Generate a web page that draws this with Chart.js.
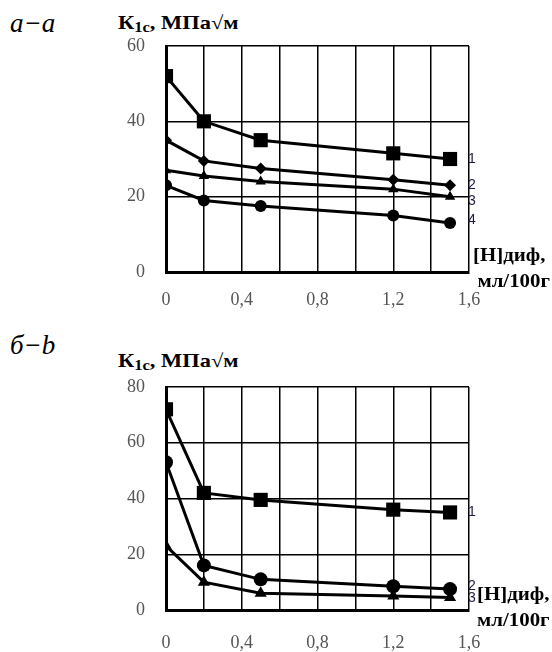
<!DOCTYPE html>
<html lang="ru">
<head>
    <meta charset="UTF-8">
    <title>K1c</title>
    <script src="https://cdn.jsdelivr.net/npm/chart.js"></script>
    <style>
        body {
            margin: 0;
            width: 552px;
            height: 652px;
            background: #fff;
            position: relative;
            font-family: 'Liberation Serif', serif;
            overflow: hidden;
        }
        .panel { position: absolute; left: 0; width: 552px; }
        .tag {
            position: absolute;
            left: 10px;
            font-family: 'Liberation Serif', serif;
            font-style: italic;
            font-size: 27px;
            line-height: 30px;
        }
        .ytitle, .xtitle {
            position: absolute;
            font-weight: bold;
            font-size: 19px;
            white-space: nowrap;
        }
        .ytitle { transform-origin: 0 0; transform: scaleX(1.18); line-height: 20px; }
        .ytitle sub { font-size: 14px; vertical-align: -3px; }
        .xtitle { line-height: 26px; transform-origin: 0 0; transform: scaleX(1.1); }
        .xtitle span { display: block; }
    </style>
</head>
<body>
    <div class="tag" style="top: 8px;">а−а</div>
    <div class="ytitle" style="left: 118px; top: 13px;">К<sub>1с</sub>, МПа√м</div>
    <div class="panel" style="top: 0; height: 320px;"><canvas id="chartA"></canvas></div>
    <div class="xtitle" style="left: 473px; top: 242px;"><span>[H]диф,</span><span style="margin-left: 4px;">мл/100г</span></div>

    <div class="tag" style="top: 330px;">б−b</div>
    <div class="ytitle" style="left: 118px; top: 351px;">К<sub>1с</sub>, МПа√м</div>
    <div class="panel" style="top: 330px; height: 322px;"><canvas id="chartB"></canvas></div>
    <div class="xtitle" style="left: 477px; top: 581px;"><span>[H]диф,</span><span>мл/100г</span></div>

    <script>
        // содержание диффузионного водорода, мл/100г
        const hDif = [0, 0.2, 0.5, 1.2, 1.5];

        // а-а
        const a1 = [52, 40, 35, 31.5, 30];
        const a2 = [35, 29.5, 27.5, 24.5, 23];
        const a3 = [27, 25.5, 24, 22, 20];
        const a4 = [23, 19, 17.5, 15, 13];
        const aNames = ['1', '2', '3', '4'];

        // б-b
        const b1 = [72, 42, 39.5, 36, 35];
        const b2 = [53, 16, 11, 8.5, 7.5];
        const b3 = [23, 10, 6, 5, 4.5];
        const bNames = ['1', '2', '3'];

        const styles = ['rect', 'rectRot', 'triangle', 'circle'];

        const endLabels = {
            id: 'endLabels',
            afterDatasetsDraw(chart, args, opts) {
                const ctx = chart.ctx;
                ctx.save();
                ctx.font = '14px "Liberation Sans", sans-serif';
                ctx.fillStyle = '#1a1a40';
                ctx.textBaseline = 'middle';
                chart.data.datasets.forEach((ds, i) => {
                    const meta = chart.getDatasetMeta(i);
                    const p = meta.data[meta.data.length - 1];
                    ctx.fillText(ds.label, p.x + opts.dx, p.y + (opts.dy[i] || 0));
                });
                ctx.restore();
            }
        };

        function makeChart(id, series, names, yMax, styleIdx, radii, pad, xh, xpad, dx, dy) {
            const datasets = series.map((s, i) => ({
                label: names[i],
                data: hDif.map((x, j) => ({ x: x, y: s[j] })),
                borderColor: '#000',
                backgroundColor: '#000',
                borderWidth: 3,
                pointStyle: styles[styleIdx[i]],
                pointRadius: radii[i],
                pointBorderWidth: 0,
                tension: 0
            }));

            new Chart(document.getElementById(id), {
                type: 'line',
                data: { datasets: datasets },
                plugins: [endLabels],
                options: {
                    responsive: true,
                    maintainAspectRatio: false,
                    animation: false,
                    layout: { padding: pad },
                    plugins: {
                        legend: { display: false },
                        tooltip: { enabled: false },
                        endLabels: { dx: dx, dy: dy }
                    },
                    scales: {
                        x: {
                            type: 'linear',
                            min: 0,
                            max: 1.6,
                            afterFit: s => { s.height = xh; },
                            ticks: {
                                stepSize: 0.2,
                                padding: xpad,
                                color: '#555',
                                font: { family: 'Liberation Serif', size: 18 },
                                callback: v => {
                                    const r = Math.round(v * 10);
                                    return r % 4 === 0 ? (r / 10).toString().replace('.', ',') : '';
                                }
                            },
                            grid: { color: '#000', lineWidth: 1.5, drawTicks: false },
                            border: { color: '#000', width: 3 }
                        },
                        y: {
                            min: 0,
                            max: yMax,
                            afterFit: s => { s.width = 166; },
                            ticks: {
                                stepSize: 20,
                                padding: 21,
                                color: '#555',
                                font: { family: 'Liberation Serif', size: 18 }
                            },
                            grid: { color: '#000', lineWidth: 1.5, drawTicks: false },
                            border: { color: '#000', width: 3 }
                        }
                    }
                }
            });
        }

        makeChart('chartA', [a1, a2, a3, a4], aNames, 60, [0, 1, 2, 3], [10, 6, 6, 6],
            { left: 0, right: 83, top: 46, bottom: 0 }, 48, 17, 18, [0, 0, 4, -3]);
        makeChart('chartB', [b1, b2, b3], bNames, 80, [0, 3, 2], [10, 7, 7],
            { left: 0, right: 83, top: 57, bottom: 0 }, 42, 22, 18, [0, -3, 1]);
    </script>
</body>
</html>
